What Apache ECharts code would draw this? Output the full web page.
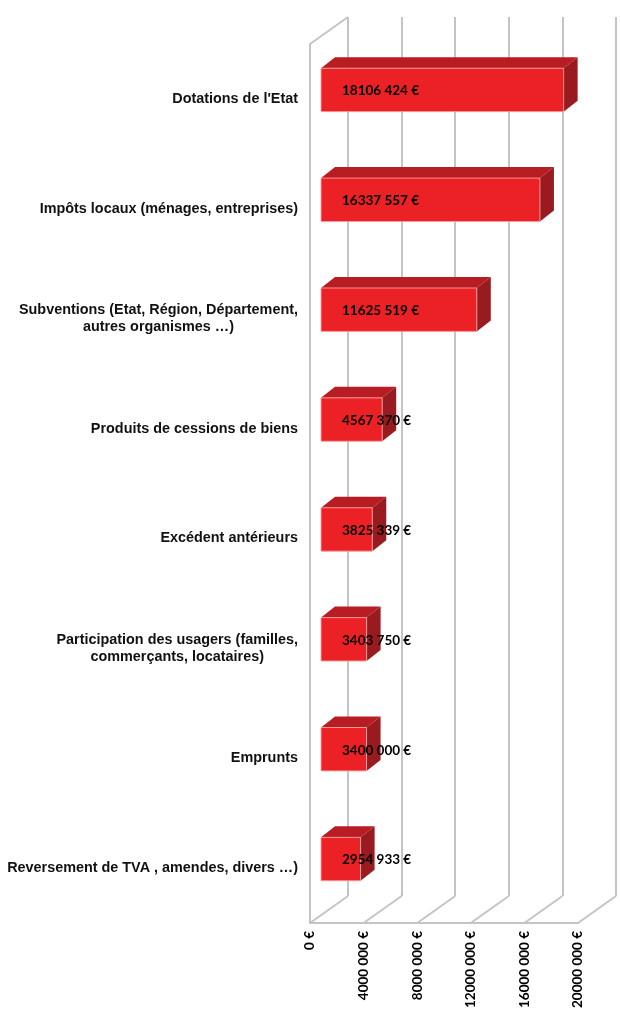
<!DOCTYPE html>
<html>
<head>
<meta charset="utf-8">
<style>
  html, body { margin: 0; padding: 0; background: #fff; }
  #chart { width: 620px; height: 1028px; }
</style>
<script src="https://cdn.jsdelivr.net/npm/echarts@6/dist/echarts.min.js"></script>
</head>
<body>
<div id="chart"></div>
<script>
  var categories = [
    "Dotations de l'Etat",
    'Impôts locaux (ménages, entreprises)',
    'Subventions (Etat, Région, Département,\nautres organismes …)',
    'Produits de cessions de biens',
    'Excédent antérieurs',
    'Participation des usagers (familles,\ncommerçants, locataires)',
    'Emprunts',
    'Reversement de TVA , amendes, divers …)'
  ];
  var values = [18106424, 16337557, 11625519, 4567370, 3825339, 3403750, 3400000, 2954933];
  var ticks = [0, 4000000, 8000000, 12000000, 16000000, 20000000];

  // "4000 000 €" style, like the excel number format
  function euro(v) {
    if (v < 1000) return v + ' €';
    var rest = String(v % 1000);
    while (rest.length < 3) rest = '0' + rest;
    return Math.floor(v / 1000) + ' ' + rest + ' €';
  }

  var gridColor = '#c4c4c4';
  var depth = [38, -27];     // floor / wall depth
  var barShift = [11, -9];   // front face of bars sits a bit inside
  var barDepth = [14, -11];

  var chart = echarts.init(document.getElementById('chart'));

  chart.setOption({
    animation: false,
    grid: [
      { left: 310, width: 268, top: 44, bottom: 105 },
      { left: 348, width: 268, top: 17, bottom: 132 }
    ],
    xAxis: [{
      gridIndex: 0,
      type: 'value',
      min: 0,
      max: 20000000,
      interval: 4000000,
      axisLine: { show: true, lineStyle: { color: gridColor, width: 2 } },
      axisTick: { show: false },
      splitLine: { show: false },
      axisLabel: {
        rotate: 90,
        margin: 8,
        color: '#000',
        fontFamily: 'Lato',
        fontWeight: 'bold',
        fontSize: 13.5,
        formatter: euro
      }
    }, {
      gridIndex: 1,
      type: 'value',
      min: 0,
      max: 20000000,
      interval: 4000000,
      axisLine: { show: false },
      axisTick: { show: false },
      axisLabel: { show: false },
      splitLine: { show: true, lineStyle: { color: gridColor, width: 2 } }
    }],
    yAxis: [{
      gridIndex: 0,
      type: 'category',
      inverse: true,
      data: categories,
      axisLine: { show: true, lineStyle: { color: gridColor, width: 2 } },
      axisTick: { show: false },
      axisLabel: {
        margin: 12,
        formatter: function (val) {
          return val.split('\n').map(function (l) { return '{c|' + l + '}'; }).join('\n');
        },
        rich: {
          c: {
            align: 'center',
            color: '#111',
            fontFamily: '"Liberation Sans", Arial',
            fontWeight: 'bold',
            fontSize: 14.4,
            lineHeight: 17
          }
        }
      }
    }, {
      gridIndex: 1,
      type: 'category',
      inverse: true,
      data: categories,
      show: false
    }],
    series: [{
      // floor diagonals and left wall top edge
      type: 'custom',
      xAxisIndex: 0,
      yAxisIndex: 0,
      silent: true,
      data: ticks.map(function (t) { return [t, 0]; }),
      renderItem: function (params, api) {
        var cs = params.coordSys;
        var x = api.coord([api.value(0), 0])[0];
        var yb = cs.y + cs.height;
        var children = [{
          type: 'line',
          shape: { x1: x, y1: yb, x2: x + depth[0], y2: yb + depth[1] },
          style: { stroke: gridColor, lineWidth: 2 }
        }];
        if (params.dataIndex === 0) {
          children.push({
            type: 'line',
            shape: { x1: cs.x, y1: cs.y, x2: cs.x + depth[0], y2: cs.y + depth[1] },
            style: { stroke: gridColor, lineWidth: 2 }
          });
        }
        return { type: 'group', children: children };
      }
    }, {
      type: 'custom',
      xAxisIndex: 0,
      yAxisIndex: 0,
      data: values.map(function (v, i) { return [v, i]; }),
      renderItem: function (params, api) {
        var v = api.value(0);
        var cat = api.value(1);
        var p0 = api.coord([0, cat]);
        var p1 = api.coord([v, cat]);
        var band = api.size([0, 1])[1];
        var h = band * 0.395;
        var x0 = p0[0] + barShift[0];
        var x1 = p1[0] + barShift[0];
        var yc = p0[1] + barShift[1];
        var yt = yc - h / 2;
        var yb = yc + h / 2;
        var dx = barDepth[0], dy = barDepth[1];
        return {
          type: 'group',
          children: [{
            type: 'polygon',
            shape: { points: [[x0, yt], [x1, yt], [x1 + dx, yt + dy], [x0 + dx, yt + dy]] },
            style: { fill: '#b71d23' }
          }, {
            type: 'polygon',
            shape: { points: [[x1, yt], [x1 + dx, yt + dy], [x1 + dx, yb + dy], [x1, yb]] },
            style: { fill: '#991b1f' }
          }, {
            type: 'rect',
            shape: { x: x0, y: yt, width: x1 - x0, height: h },
            style: { fill: '#ec2125', stroke: 'rgba(248,160,160,0.9)', lineWidth: 1 }
          }, {
            type: 'text',
            style: {
              x: x0 + 21,
              y: yc + 1,
              text: euro(v),
              fill: '#000',
              fontFamily: 'Lato',
              fontWeight: 'bold',
              fontSize: 13.5,
              align: 'left',
              verticalAlign: 'middle'
            }
          }]
        };
      }
    }]
  });
</script>
</body>
</html>
